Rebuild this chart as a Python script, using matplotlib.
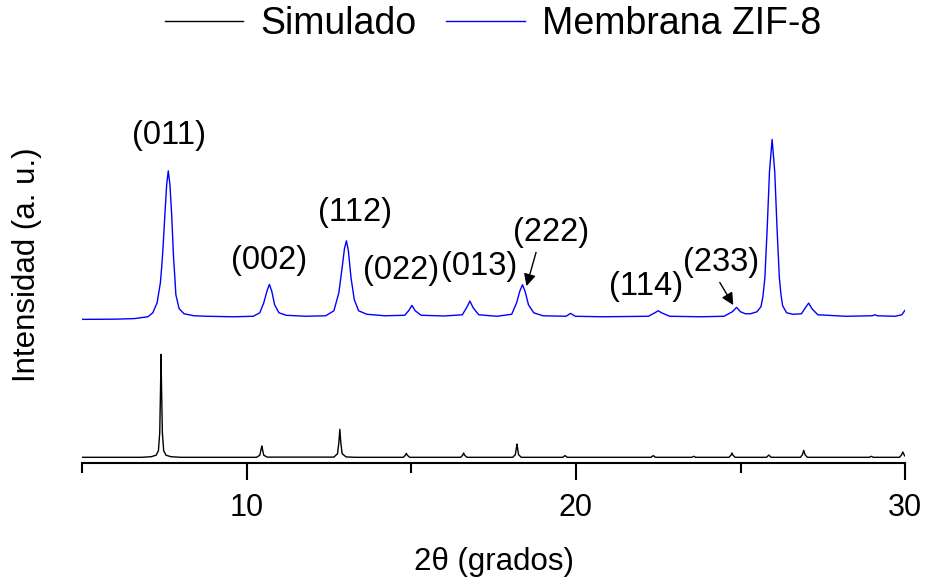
import matplotlib
matplotlib.use("Agg")
import matplotlib.pyplot as plt
from matplotlib.ticker import MultipleLocator

plt.rcParams['font.family'] = ['Liberation Sans', 'DejaVu Sans']

# Simulated pattern (2theta, intensity in arbitrary units)
sim_x = [5.0, 6.8, 7.1, 7.25, 7.32, 7.36, 7.385, 7.40, 7.415, 7.44, 7.48, 7.55, 7.7, 8.0,
         10.3, 10.4, 10.44, 10.46, 10.48, 10.52, 10.62,
         12.65, 12.76, 12.8, 12.83, 12.86, 12.9, 13.02, 13.3,
         14.76, 14.82, 14.85, 14.88, 14.95,
         16.5, 16.56, 16.59, 16.62, 16.69,
         18.08, 18.16, 18.19, 18.21, 18.23, 18.26, 18.34,
         19.6, 19.67, 19.74,
         22.28, 22.35, 22.42,
         23.52, 23.58, 23.64,
         24.65, 24.71, 24.74, 24.77, 24.84,
         25.79, 25.86, 25.93,
         26.82, 26.88, 26.92, 26.96, 27.03,
         28.91, 28.97, 29.03,
         29.83, 29.89, 29.93, 29.97, 30.0]
sim_y = [5.4, 5.4, 6.0, 7.5, 12, 30, 75, 108.4, 75, 30, 12, 7.5, 6.0, 5.4,
         5.4, 7.5, 13.5, 16.7, 13.5, 7.5, 5.6,
         5.6, 9, 20, 33.4, 20, 9, 5.8, 5.4,
         5.4, 7.5, 9.4, 7.5, 5.4,
         5.4, 7.5, 9.7, 7.5, 5.4,
         5.4, 8, 14, 18.7, 14, 8, 5.4,
         5.4, 7.1, 5.4,
         5.4, 7.1, 5.4,
         5.4, 6.4, 5.4,
         5.4, 7.5, 9.7, 7.5, 5.4,
         5.4, 7.7, 5.4,
         5.4, 8, 12.4, 8, 5.4,
         5.4, 6.4, 5.4,
         5.4, 7.8, 10.7, 7.8, 6.5]

# Membrane ZIF-8 pattern
mem_x = [5.0, 6.0, 6.6, 7.0, 7.15, 7.28, 7.38, 7.42, 7.46, 7.52, 7.57, 7.62, 7.67, 7.72, 7.78,
         7.82, 7.85, 7.95, 8.1, 8.4, 8.8, 9.6, 10.2, 10.4, 10.52, 10.62, 10.69, 10.76, 10.85,
         10.98, 11.2, 11.8, 12.4, 12.65, 12.8, 12.9, 12.97, 13.03, 13.09, 13.17, 13.27, 13.4,
         13.65, 14.2, 14.8, 14.92, 15.02, 15.12, 15.3, 16.0, 16.55, 16.68, 16.78, 16.88, 17.05,
         17.6, 18.05, 18.2, 18.3, 18.38, 18.46, 18.56, 18.72, 19.0, 19.7, 19.84, 19.98, 20.8,
         22.2, 22.4, 22.5, 22.6, 22.85, 23.8, 24.5, 24.75, 24.88, 25.0, 25.15, 25.3, 25.5,
         25.62, 25.68, 25.74, 25.81, 25.88, 25.96, 26.04, 26.11, 26.18, 26.23, 26.28, 26.4,
         26.6, 26.85, 26.97, 27.07, 27.17, 27.35, 28.2, 29.0, 29.08, 29.16, 29.7, 29.9, 30.0,
         30.03]
mem_y = [143.4, 143.6, 144.2, 146.0, 150, 160, 180, 196, 215, 250, 278, 292, 278, 250, 205,
         185, 168, 154, 149, 147, 146.5, 146, 146.5, 150, 160, 172, 178.4, 172, 158,
         150, 147.5, 146.5, 147, 152, 170, 195, 214, 222, 212, 185, 163, 152,
         148.5, 147, 147.5, 152, 157.4, 152, 147.5, 146.8, 148, 155, 161.7, 155, 148,
         146.5, 148.5, 160, 172, 178, 171, 158, 150, 147, 146.5, 149.4, 146.5, 146,
         146.5, 150, 152, 150, 146.5, 146, 146.5, 151, 155.4, 151, 149, 149, 151,
         156, 166, 185, 234, 291, 323.4, 291, 234, 185, 168, 157, 150,
         148.5, 149, 155, 159.7, 154, 148, 146.5, 147, 148, 147, 146.5, 148, 152.7,
         153]

# Peak labels: text, label position (x, y)
peak_labels = ["(011)", "(002)", "(112)", "(022)", "(013)", "(222)", "(114)", "(233)"]
label_x = [7.64, 10.68, 13.29, 14.69, 17.06, 19.24, 22.13, 24.42]
label_y = [327.7, 202.7, 250.7, 192.7, 196.7, 230.7, 176.7, 200.7]

# Arrows: (tail x, tail y) -> (tip x, tip y)
arrow_tail = [(18.79, 210.4), (24.37, 180.4)]
arrow_tip = [(18.50, 176.7), (24.78, 157.7)]

xticks = [10, 20, 30]

fig = plt.figure(figsize=(9.29, 5.81), dpi=100)
ax = fig.add_axes([0.0883, 0.2036, 0.886, 0.624])

l1, = ax.plot(sim_x, sim_y, color='black', lw=1.0, label='Simulado')
l2, = ax.plot(mem_x, mem_y, color='#0000ff', lw=1.0, label='Membrana ZIF-8')

ax.set_xlim(5, 30)
ax.set_ylim(0, 362.7)

for s in ['left', 'right', 'top']:
    ax.spines[s].set_visible(False)
ax.spines['bottom'].set_linewidth(1.5)
ax.set_yticks([])
ax.set_xticks(xticks)
ax.xaxis.set_minor_locator(MultipleLocator(5))
ax.tick_params(axis='x', which='major', length=12, width=1.5, direction='out',
               labelsize=22, pad=10)
ax.tick_params(axis='x', which='minor', length=7, width=1.5, direction='out')

fig.text(494 / 929, 1 - 562 / 581, '2θ (grados)', fontsize=22.5, ha='center', va='center')
fig.text(27.5 / 929, 1 - 264.5 / 581, 'Intensidad (a. u.)', fontsize=22.5, ha='center',
         va='center', rotation=90)

for t, x, y in zip(peak_labels, label_x, label_y):
    ax.text(x, y, t, fontsize=23.5, ha='center', va='center')

for tail, tip in zip(arrow_tail, arrow_tip):
    ax.annotate('', xy=tip, xytext=tail,
                arrowprops=dict(arrowstyle='-|>', color='black', lw=1.0,
                                mutation_scale=18, shrinkA=0, shrinkB=0))

fig.legend(handles=[l1, l2], loc='center', bbox_to_anchor=(493 / 929, 1 - 24 / 581),
           ncol=2, frameon=False, fontsize=27, handlelength=2.1, handletextpad=0.45,
           columnspacing=0.8)

fig.savefig('out.png', dpi=100)
